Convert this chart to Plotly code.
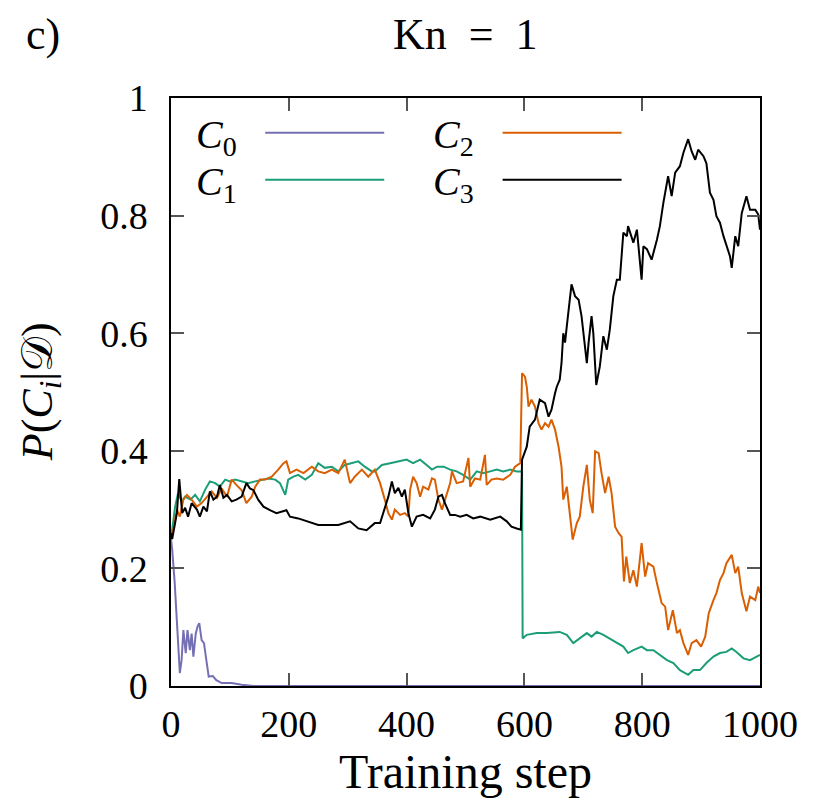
import plotly.graph_objects as go

# Dark2 palette, as in the gnuplot figure
PURPLE = "#7570b3"
GREEN = "#1b9e77"
ORANGE = "#d95f02"
BLACK = "#000000"
FONT = "Liberation Serif"

# values
STEPS_C0 = [0, 2, 6, 8, 10, 12, 15, 18, 21, 25, 28, 32, 35, 38, 42, 45, 48, 52,
            56, 60, 64, 71, 77, 86, 103, 120, 140, 1000]
P_C0 = [0.25, 0.232, 0.18, 0.146, 0.118, 0.067, 0.022, 0.044, 0.095, 0.056, 0.095,
        0.061, 0.089, 0.05, 0.089, 0.101, 0.107, 0.078, 0.073, 0.044, 0.016, 0.017,
        0.01, 0.005, 0.005, 0.002, 0.0, 0.0]

STEPS_C1 = [0, 3, 7, 12, 18, 24, 33, 41, 49, 58, 66, 75, 83, 92, 100, 109, 120, 131,
            143, 154, 165, 177, 185, 194, 199, 208, 216, 228, 239, 250, 261, 273, 284,
            295, 307, 318, 329, 341, 346, 358, 372, 386, 400, 411, 423, 434, 443, 452,
            463, 474, 485, 496, 508, 519, 530, 542, 553, 564, 576, 587, 596, 597, 604,
            621, 638, 660, 672, 683, 694, 706, 714, 723, 734, 745, 757, 768, 776, 785,
            799, 808, 819, 830, 842, 853, 864, 878, 887, 898, 909, 921, 932, 943, 952,
            960, 972, 983, 994, 1000]
P_C1 = [0.25, 0.27, 0.305, 0.328, 0.314, 0.322, 0.317, 0.325, 0.314, 0.334, 0.348,
        0.345, 0.339, 0.351, 0.348, 0.351, 0.348, 0.345, 0.348, 0.351, 0.353, 0.351,
        0.345, 0.325, 0.351, 0.356, 0.359, 0.351, 0.359, 0.379, 0.371, 0.373, 0.365,
        0.376, 0.379, 0.382, 0.373, 0.365, 0.365, 0.376, 0.379, 0.382, 0.385, 0.379,
        0.385, 0.376, 0.368, 0.373, 0.373, 0.368, 0.365, 0.359, 0.351, 0.365, 0.362,
        0.365, 0.368, 0.365, 0.368, 0.365, 0.365, 0.081, 0.087, 0.09, 0.09, 0.092,
        0.087, 0.073, 0.081, 0.09, 0.084, 0.092, 0.087, 0.081, 0.073, 0.067, 0.056,
        0.061, 0.067, 0.061, 0.061, 0.053, 0.044, 0.039, 0.027, 0.019, 0.027, 0.027,
        0.039, 0.05, 0.056, 0.058, 0.064, 0.058, 0.047, 0.044, 0.05, 0.053]

STEPS_C2 = [0, 5, 10, 15, 21, 27, 35, 44, 52, 61, 69, 78, 86, 95, 103, 111, 120, 128,
            137, 143, 151, 160, 171, 182, 191, 196, 202, 213, 225, 239, 250, 261, 273,
            284, 295, 304, 312, 324, 335, 346, 355, 363, 369, 375, 380, 389, 397, 403,
            406, 411, 417, 423, 428, 437, 443, 448, 454, 460, 465, 474, 477, 485, 496,
            502, 505, 508, 516, 525, 533, 536, 544, 553, 564, 576, 584, 593, 596, 601,
            604, 607, 612, 618, 624, 629, 635, 641, 646, 652, 658, 663, 666, 672, 677,
            682, 689, 694, 700, 706, 711, 716, 720, 726, 731, 737, 743, 748, 754, 760,
            765, 769, 773, 779, 785, 791, 799, 805, 810, 819, 825, 833, 839, 844, 852,
            859, 864, 870, 878, 884, 892, 900, 907, 913, 921, 926, 932, 938, 943, 952,
            958, 963, 969, 977, 983, 992, 997, 1000]
P_C2 = [0.25, 0.271, 0.3, 0.288, 0.317, 0.325, 0.317, 0.305, 0.311, 0.322, 0.331,
        0.32, 0.336, 0.322, 0.351, 0.342, 0.333, 0.311, 0.322, 0.339, 0.351, 0.351,
        0.356, 0.368, 0.379, 0.382, 0.362, 0.368, 0.362, 0.373, 0.365, 0.362, 0.368,
        0.362, 0.385, 0.345, 0.356, 0.368, 0.356, 0.368, 0.345, 0.317, 0.294, 0.283,
        0.3, 0.291, 0.294, 0.288, 0.334, 0.356, 0.345, 0.322, 0.339, 0.334, 0.353,
        0.351, 0.317, 0.3, 0.317, 0.345, 0.365, 0.345, 0.348, 0.373, 0.388, 0.339,
        0.353, 0.351, 0.393, 0.342, 0.351, 0.353, 0.351, 0.359, 0.373, 0.379, 0.532,
        0.526, 0.509, 0.475, 0.487, 0.475, 0.447, 0.436, 0.447, 0.441, 0.453, 0.436,
        0.407, 0.373, 0.317, 0.339, 0.288, 0.249, 0.277, 0.288, 0.339, 0.376, 0.317,
        0.294, 0.399, 0.396, 0.362, 0.328, 0.356, 0.328, 0.271, 0.26, 0.254, 0.178,
        0.22, 0.175, 0.197, 0.169, 0.243, 0.186, 0.209, 0.203, 0.175, 0.141, 0.135,
        0.095, 0.129, 0.09, 0.095, 0.073, 0.053, 0.073, 0.078, 0.067, 0.084, 0.124,
        0.146, 0.158, 0.18, 0.192, 0.209, 0.223, 0.192, 0.203, 0.158, 0.127, 0.152,
        0.146, 0.169, 0.158]

STEPS_C3 = [0, 2, 10, 14, 19, 24, 29, 35, 44, 49, 55, 61, 66, 72, 78, 83, 89, 95,
            103, 111, 120, 128, 134, 140, 148, 157, 168, 179, 196, 202, 216, 233, 250,
            267, 284, 304, 318, 332, 346, 355, 363, 369, 375, 380, 386, 392, 397, 403,
            409, 417, 428, 440, 448, 454, 460, 465, 474, 482, 491, 502, 513, 525, 542,
            559, 570, 578, 587, 594, 596, 604, 609, 618, 626, 635, 641, 646, 652, 655,
            660, 663, 666, 669, 672, 680, 686, 692, 697, 706, 709, 714, 717, 722, 728,
            734, 740, 745, 751, 757, 762, 768, 774, 776, 785, 791, 799, 802, 808, 816,
            825, 830, 836, 844, 850, 856, 864, 870, 878, 884, 890, 895, 904, 909, 915,
            921, 926, 932, 938, 943, 949, 952, 958, 963, 969, 977, 983, 992, 997, 1000]
P_C3 = [0.26, 0.25, 0.294, 0.352, 0.294, 0.303, 0.288, 0.311, 0.3, 0.288, 0.305,
        0.297, 0.331, 0.317, 0.322, 0.342, 0.32, 0.325, 0.314, 0.317, 0.322, 0.345,
        0.336, 0.333, 0.317, 0.305, 0.299, 0.294, 0.299, 0.288, 0.285, 0.28, 0.274,
        0.274, 0.274, 0.28, 0.268, 0.265, 0.277, 0.277, 0.305, 0.322, 0.348, 0.328,
        0.337, 0.322, 0.334, 0.294, 0.271, 0.288, 0.291, 0.285, 0.3, 0.322, 0.325,
        0.311, 0.291, 0.291, 0.288, 0.291, 0.285, 0.288, 0.283, 0.288, 0.28, 0.271,
        0.268, 0.266, 0.385, 0.407, 0.441, 0.453, 0.487, 0.481, 0.458, 0.47, 0.498,
        0.509, 0.521, 0.549, 0.6, 0.584, 0.612, 0.683, 0.663, 0.657, 0.629, 0.549,
        0.584, 0.629, 0.6, 0.512, 0.543, 0.595, 0.572, 0.606, 0.663, 0.691, 0.691,
        0.771, 0.765, 0.782, 0.754, 0.776, 0.691, 0.748, 0.743, 0.725, 0.759, 0.782,
        0.822, 0.867, 0.833, 0.873, 0.884, 0.907, 0.93, 0.909, 0.895, 0.912, 0.901,
        0.889, 0.839, 0.827, 0.799, 0.788, 0.765, 0.748, 0.731, 0.711, 0.765, 0.748,
        0.804, 0.833, 0.81, 0.81, 0.802, 0.776]

X_TICKS = [0, 200, 400, 600, 800, 1000]
Y_TICKS = [0, 0.2, 0.4, 0.6, 0.8, 1]
LABELS = ["0", "1", "2", "3"]
COLORS = [PURPLE, GREEN, ORANGE, BLACK]


fig = go.Figure()
series = [(STEPS_C0, P_C0), (STEPS_C1, P_C1), (STEPS_C2, P_C2), (STEPS_C3, P_C3)]
for (xs, ys), lab, col in zip(series, LABELS, COLORS):
    fig.add_trace(go.Scatter(x=xs, y=ys, mode="lines", name=f"C{lab}",
                             line=dict(color=col, width=2), showlegend=False))

# gnuplot-style key: label on the left, line sample on the right, two columns
key_pos = [(0.116, 0.16, 0.362, 0.941), (0.116, 0.16, 0.362, 0.861),
           (0.518, 0.563, 0.765, 0.941), (0.518, 0.563, 0.765, 0.861)]
for lab, col, (tx, x0, x1, ky) in zip(LABELS, COLORS, key_pos):
    fig.add_annotation(x=tx, y=ky - 0.008, xref="paper", yref="paper", xanchor="right",
                       yanchor="middle", showarrow=False,
                       text=f"<i>C</i><sub>{lab}</sub>",
                       font=dict(family=FONT, size=40, color="black"))
    fig.add_shape(type="line", xref="paper", yref="paper", x0=x0, x1=x1, y0=ky, y1=ky,
                  line=dict(color=col, width=2))

# panel letter and title, anchored by their top at the page top
# (t margin 90 / plot height 588 -> paper y 1.153)
fig.add_annotation(x=-0.217, y=1.153, xref="paper", yref="paper", xanchor="center",
                   yanchor="top", showarrow=False, text="c)",
                   font=dict(family=FONT, size=44, color="black"))
fig.add_annotation(x=0.5, y=1.153, xref="paper", yref="paper", xanchor="center",
                   yanchor="top", showarrow=False, text="Kn\u00a0\u00a0=\u00a0\u00a01",
                   font=dict(family=FONT, size=44, color="black"))
fig.add_annotation(x=-0.222, y=0.5, xref="paper", yref="paper", xanchor="center",
                   yanchor="middle", showarrow=False, textangle=-90,
                   text="<i>P</i>(<i>C</i><sub><i>i</i></sub>|𝒟)",
                   font=dict(family=FONT, size=44, color="black"))

axis_style = dict(showline=True, linecolor="black", linewidth=1.5, mirror="allticks",
                  ticks="inside", ticklen=13, tickwidth=1.5, tickcolor="#555555",
                  showgrid=False, zeroline=False, automargin=False,
                  tickfont=dict(family=FONT, size=38, color="black"))

fig.update_xaxes(range=[0, 1000], tickvals=X_TICKS, ticktext=[str(v) for v in X_TICKS],
                 ticklabelstandoff=4,
                 title=dict(text="Training step", standoff=4,
                            font=dict(family=FONT, size=48, color="black")),
                 **axis_style)
fig.update_yaxes(range=[0, 1], tickvals=Y_TICKS, ticktext=[f"{v:g}" for v in Y_TICKS],
                 ticklabelstandoff=14, **axis_style)

fig.update_layout(
    width=830, height=800,
    paper_bgcolor="white", plot_bgcolor="white",
    # page body adds 8px, so shift margins to land the frame where the reference has it
    margin=dict(l=163, r=78, t=90, b=122),
)

fig.write_html("out.html")
